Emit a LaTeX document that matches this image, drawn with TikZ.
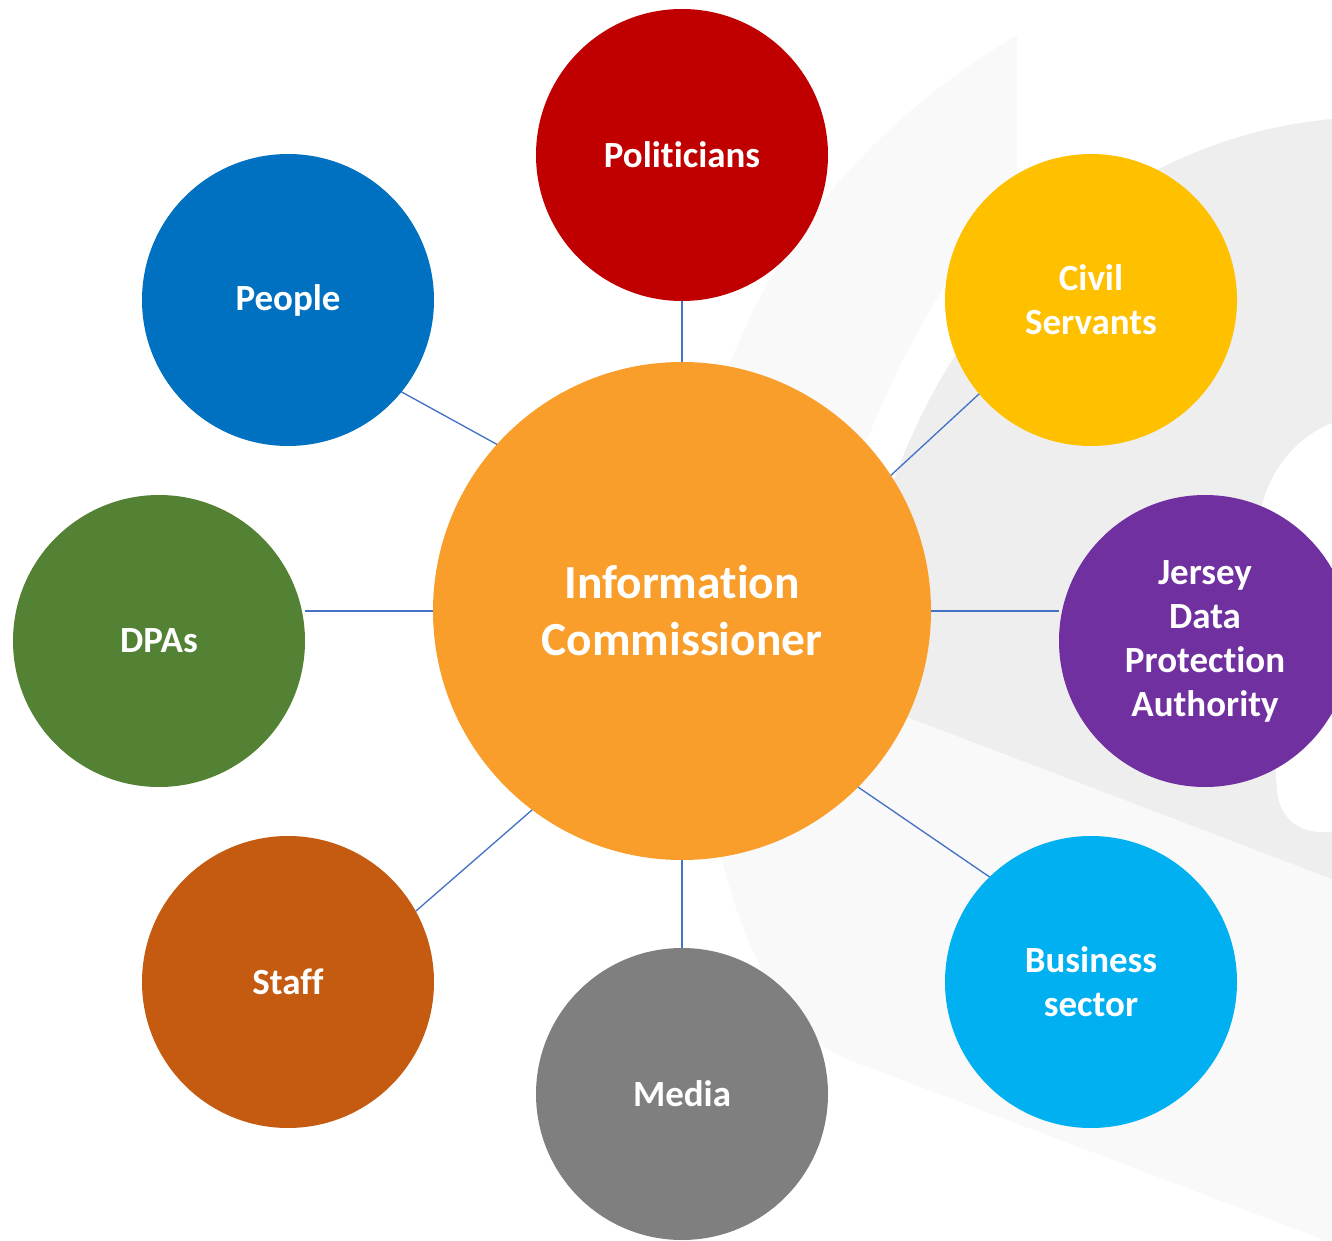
\documentclass[tikz,border=0pt]{standalone}
\usepackage{fontspec}
\setmainfont{Carlito}[Ligatures=NoCommon]
\definecolor{cPol}{HTML}{C00000}
\definecolor{cPeople}{HTML}{0070C0}
\definecolor{cCivil}{HTML}{FFC000}
\definecolor{cHub}{HTML}{F99D2B}
\definecolor{cDPA}{HTML}{548235}
\definecolor{cJersey}{HTML}{7030A0}
\definecolor{cStaff}{HTML}{C55A11}
\definecolor{cMedia}{HTML}{7F7F7F}
\definecolor{cBiz}{HTML}{00B0F0}
\definecolor{cLine}{HTML}{4472C4}
\definecolor{cFaint}{HTML}{F9F9F9}
\definecolor{cLight}{HTML}{EEEEEE}
\begin{document}
\begin{tikzpicture}[x=0.75pt,y=-0.75pt,
  bub/.style={circle, minimum size=219pt, inner sep=0pt, outer sep=0pt, text=white, align=center,
    font=\fontsize{27.7}{33}\selectfont\bfseries},
  hub/.style={bub, minimum size=373.5pt, font=\fontsize{35.6}{42.75}\selectfont\bfseries},
  link/.style={draw=cLine, line width=1pt}]
\useasboundingbox (0,0) rectangle (1332,1241);
\clip (0,0) rectangle (1332,1241);
% background logo shapes
\fill[cFaint] (1017,35) -- (1017,250) -- (1332,250) -- (1332,1243) -- (849,1060)
  .. controls (770,1030) and (685,880) .. (690,520)
  .. controls (720,300) and (840,140) .. (1017,35) -- cycle;
\fill[white] (1010,190) .. controls (950,270) and (880,380) .. (840,520) -- (1000,520) -- (1100,250) -- cycle;
\fill[cLight] (1332,119) .. controls (1100,140) and (900,330) .. (860,620) -- (860,699) -- (1332,879) -- cycle;
\fill[white] (1332,423) .. controls (1290,440) and (1262,480) .. (1258,530) -- (1277,790)
  .. controls (1279,815) and (1295,830) .. (1318,832) -- (1332,832) -- cycle;
% nodes
\node[hub, fill=cHub] (c) at (682,611) {Information\\Commissioner};
\node[bub, fill=cPol] (pol) at (682,155) {Politicians};
\node[bub, fill=cPeople] (ppl) at (288,300) {People};
\node[bub, fill=cCivil] (civ) at (1091,300) {Civil\\Servants};
\node[bub, fill=cDPA] (dpa) at (159,641) {DPAs};
\node[bub, fill=cJersey] (jer) at (1205,641) {Jersey\\Data\\Protection\\Authority};
\node[bub, fill=cStaff] (stf) at (288,982) {Staff};
\node[bub, fill=cMedia] (med) at (682,1094) {Media};
\node[bub, fill=cBiz] (biz) at (1091,982) {Business\\sector};
% connectors
\draw[link] (pol.south) -- (c.north);
\draw[link] (c.south) -- (med.north);
\draw[link] (ppl.-39.5) -- (c.138.3);
\draw[link] (civ.220.5) -- (c.33.2);
\draw[link] (stf.29.6) -- (c.233.6);
\draw[link] (biz.134.4) -- (c.-45.2);
\draw[link] (c.west) -- (c.west -| dpa.east);
\draw[link] (c.east) -- (c.east -| jer.west);
\end{tikzpicture}
\end{document}
